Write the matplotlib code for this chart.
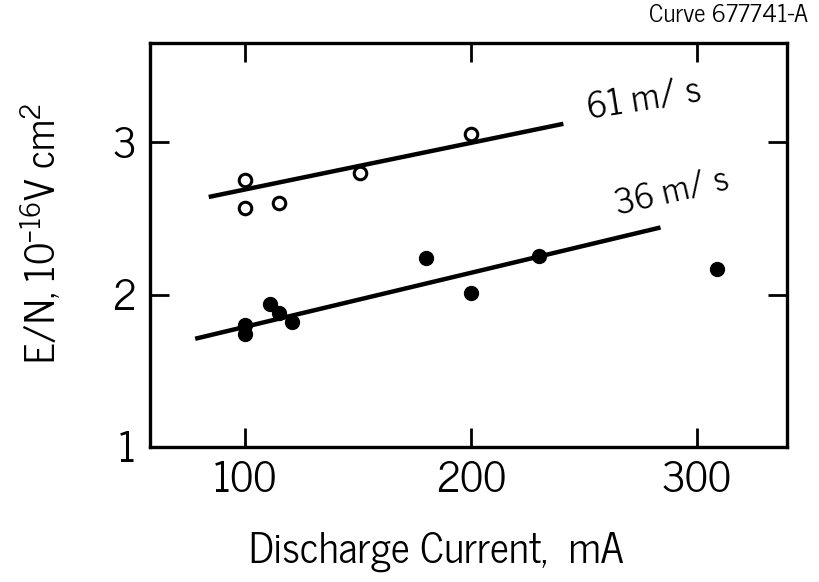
import numpy as np
import matplotlib.pyplot as plt

plt.rcParams['font.family'] = ['News Cycle', 'DejaVu Sans']
plt.rcParams['mathtext.fontset'] = 'custom'
plt.rcParams['mathtext.rm'] = 'News Cycle'
plt.rcParams['mathtext.it'] = 'News Cycle'
plt.rcParams['mathtext.bf'] = 'News Cycle'

# 61 m/s data (open circles)
i61 = [100, 100, 115, 151, 200]
en61 = [2.75, 2.57, 2.60, 2.80, 3.05]
fit61_x = [84, 241]
fit61_y = [2.64, 3.12]

# 36 m/s data (filled circles)
i36 = [100, 100, 111, 115, 121, 180, 200, 230, 309]
en36 = [1.80, 1.74, 1.94, 1.88, 1.82, 2.24, 2.01, 2.25, 2.17]
fit36_x = [78, 284]
fit36_y = [1.71, 2.44]

fig = plt.figure(figsize=(8.19, 5.82), dpi=100)
ax = fig.add_axes([150/819, 1 - 447/582, 637/819, 404/582])

ax.plot(fit61_x, fit61_y, color='black', lw=3.2, solid_capstyle='butt')
ax.plot(fit36_x, fit36_y, color='black', lw=3.2, solid_capstyle='butt')
ax.plot(i61, en61, 'o', mfc='white', mec='black', mew=2.2, ms=9)
ax.plot(i36, en36, 'o', color='black', ms=10)

# curve labels, placed in pixel coords from the top-left
ax.text(585/819, 1 - 100/582, '61 m/ s', transform=fig.transFigure,
        fontsize=26, rotation=9, ha='left', va='center')
ax.text(612/819, 1 - 193/582, '36 m/ s', transform=fig.transFigure,
        fontsize=25, rotation=13, ha='left', va='center')

ax.set_xlim(58, 340)
ax.set_ylim(1.0, 3.65)
ax.set_xticks([100, 200, 300])
ax.set_yticks([1, 2, 3])
ax.tick_params(direction='in', length=14, width=2, labelsize=30,
               top=True, right=True, pad=10)
for s in ax.spines.values():
    s.set_linewidth(2.4)

ax.set_xlabel('Discharge Current,  mA', fontsize=30)
ax.xaxis.set_label_coords(0.45, -0.21)
ax.set_ylabel(r'E/N, 10$^{-16}$V cm$^2$', fontsize=29)
ax.yaxis.set_label_coords(-0.135, 0.53)

fig.text(808/819, 1 - 16/582, 'Curve 677741-A', fontsize=18,
         ha='right', va='center')

fig.savefig('out.png', dpi=100)
